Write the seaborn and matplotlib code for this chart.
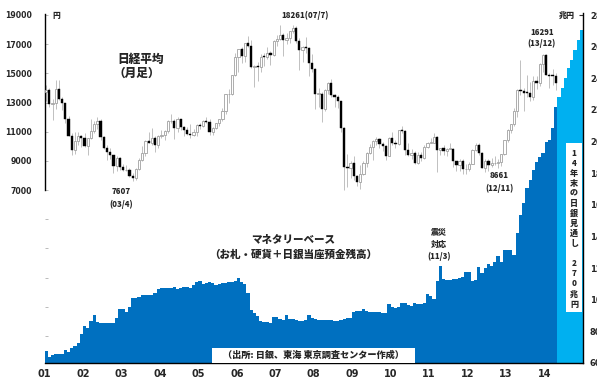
import numpy as np
import matplotlib
matplotlib.use("Agg")
import matplotlib.pyplot as plt
import matplotlib.patches as mpatches
import seaborn as sns

# ---------------- data ----------------
# Nikkei 225 monthly candles, Jan 2001 - Apr 2014
nk_open = [
    13691, 13843, 12883, 12999, 13934, 13262, 12969, 11860, 10713, 9774, 10366, 10697,
    10542, 9997, 10587, 11024, 11492, 11763, 10621, 9877, 9619, 9383, 8640, 9215,
    8578, 8339, 8363, 7972, 7831, 8425, 9083, 9563, 10344, 10219, 10560, 10100,
    10676, 10783, 11042, 11715, 11762, 11236, 11858, 11325, 11081, 10823, 10771, 11004,
    11488, 11387, 11740, 11668, 11008, 11276, 11584, 11899, 12413, 13574, 13606, 14872,
    16111, 16649, 16205, 17059, 16906, 15467, 15505, 15456, 16140, 16127, 16399, 16274,
    17225, 17383, 17604, 17288, 17400, 17875, 18138, 17248, 16569, 16785, 16737, 15680,
    15307, 13592, 13603, 12525, 13849, 14338, 13481, 13376, 13072, 11259, 8576, 8512,
    8859, 7994, 7568, 8109, 8828, 9522, 9958, 10356, 10492, 10133, 10034, 9345,
    10546, 10198, 10126, 11089, 11057, 9768, 9382, 9537, 8824, 9369, 9202, 9937,
    10228, 10237, 10624, 9755, 9849, 9693, 9816, 9833, 8955, 8700, 8988, 8434,
    8455, 8802, 9723, 10083, 9520, 8542, 9007, 8695, 8840, 8870, 8928, 9446,
    10395, 11138, 11559, 12397, 13860, 13774, 13677, 13668, 13389, 14455, 14327, 15662,
    16291, 14914, 14841, 14828,
]
nk_high = [
    14186, 14000, 13220, 14529, 14556, 13400, 13000, 12100, 10900, 11000, 11000, 10800,
    10900, 10600, 11900, 11700, 11980, 11900, 10700, 10100, 9900, 9400, 9300, 9250,
    8800, 8700, 8500, 8200, 8500, 9200, 10000, 10400, 11000, 11238, 10700, 10800,
    11100, 11100, 11800, 12195, 11900, 11988, 11900, 11400, 11300, 11500, 11200, 11500,
    11600, 11800, 12000, 11900, 11300, 11600, 11900, 12600, 13600, 13900, 14900, 16400,
    16700, 16800, 17100, 17563, 17300, 15600, 15800, 16300, 16400, 16800, 16500, 17300,
    17600, 18300, 17800, 17800, 17900, 18300, 18262, 17400, 16900, 17500, 16800, 16300,
    15400, 14000, 13700, 13900, 14400, 14600, 13600, 13500, 13100, 11300, 9500, 9000,
    9300, 8000, 8700, 9000, 9600, 10170, 10400, 10640, 10600, 10300, 10100, 10650,
    10982, 10400, 11100, 11408, 11100, 10200, 9800, 9700, 9600, 9600, 10100, 10300,
    10600, 10890, 10700, 9900, 10100, 9900, 10200, 9900, 9000, 9100, 9100, 8800,
    8900, 9800, 10255, 10200, 9600, 9100, 9100, 9200, 9300, 9100, 9500, 10400,
    11200, 11500, 12650, 13900, 15942, 14000, 14900, 14400, 14800, 14800, 15700, 16320,
    16300, 15000, 15300, 15000,
]
nk_low = [
    13093, 12695, 11819, 12550, 13200, 12500, 11600, 10700, 9382, 9500, 10100, 9924,
    9920, 9420, 10500, 10900, 11200, 10400, 9800, 9075, 9100, 8200, 8300, 8400,
    8300, 8300, 7862, 7607, 7700, 8400, 9000, 9300, 10200, 10100, 9600, 9900,
    10600, 10400, 10900, 11600, 10500, 11000, 11100, 10700, 10800, 10600, 10700, 10700,
    11200, 11300, 11600, 10770, 10800, 11200, 11400, 11700, 12200, 13000, 13500, 14800,
    15059, 15700, 15800, 16800, 15400, 14045, 14500, 15100, 15500, 16000, 15600, 16200,
    16900, 17300, 16200, 17000, 17100, 17800, 17100, 15262, 15800, 16400, 14800, 15100,
    12573, 12700, 11691, 12400, 13600, 13400, 12700, 12600, 11000, 6995, 7200, 7800,
    7700, 7300, 7054, 8000, 8600, 9500, 9050, 10100, 9900, 9700, 9076, 9300,
    10100, 9867, 10100, 10900, 9400, 9300, 9100, 8800, 8800, 9000, 9100, 9900,
    10200, 10200, 8227, 9400, 9400, 9300, 9800, 8600, 8300, 8300, 8100, 8100,
    8300, 8800, 9700, 9400, 8500, 8238, 8300, 8600, 8700, 8500, 8661, 9400,
    10300, 10900, 11400, 12000, 13500, 12415, 13400, 13100, 13200, 13900, 14100, 15100,
    14900, 13995, 14200, 13885,
]
nk_close = [
    13843, 12883, 12999, 13934, 13262, 12969, 11860, 10713, 9774, 10366, 10697, 10542,
    9997, 10587, 11024, 11492, 11763, 10621, 9877, 9619, 9383, 8640, 9215, 8578,
    8339, 8363, 7972, 7831, 8425, 9083, 9563, 10344, 10219, 10560, 10100, 10676,
    10783, 11042, 11715, 11762, 11236, 11858, 11325, 11081, 10823, 10771, 11004, 11488,
    11387, 11740, 11668, 11008, 11276, 11584, 11899, 12413, 13574, 13606, 14872, 16111,
    16649, 16205, 17059, 16906, 15467, 15505, 15456, 16140, 16127, 16399, 16274, 17225,
    17383, 17604, 17288, 17400, 17875, 18138, 17248, 16569, 16785, 16737, 15680, 15307,
    13592, 13603, 12525, 13849, 14338, 13481, 13376, 13072, 11259, 8576, 8512, 8859,
    7994, 7568, 8109, 8828, 9522, 9958, 10356, 10492, 10133, 10034, 9345, 10546,
    10198, 10126, 11089, 11057, 9768, 9382, 9537, 8824, 9369, 9202, 9937, 10228,
    10237, 10624, 9755, 9849, 9693, 9816, 9833, 8955, 8700, 8988, 8434, 8455,
    8802, 9723, 10083, 9520, 8542, 9007, 8695, 8840, 8870, 8928, 9446, 10395,
    11138, 11559, 12397, 13860, 13774, 13677, 13668, 13389, 14455, 14327, 15662, 16291,
    14914, 14841, 14828, 14304,
]

# Monetary base (trillion yen), monthly Jan 2001 - Apr 2014
monetary_base = [
    67.6, 64.0, 64.8, 65.9, 65.9, 65.9, 68.0, 67.2, 69.5, 70.7, 72.4, 78.3,
    83.4, 81.9, 86.5, 90.3, 86.1, 85.1, 85.5, 85.5, 85.5, 85.5, 88.4, 94.3,
    94.3, 92.2, 95.6, 100.9, 100.9, 101.9, 103.2, 103.2, 103.2, 103.2, 104.0, 106.8,
    107.6, 107.6, 107.6, 107.6, 108.2, 106.6, 107.6, 107.8, 107.8, 107.2, 109.3, 111.4,
    111.8, 109.7, 110.4, 111.0, 110.4, 109.3, 109.7, 110.4, 110.4, 111.0, 111.0, 111.8,
    113.5, 111.4, 109.7, 104.0, 93.5, 91.4, 89.7, 86.8, 86.1, 86.1, 85.5, 89.3,
    89.3, 87.8, 87.2, 90.1, 87.8, 87.6, 87.2, 86.8, 86.8, 87.2, 90.1, 88.4,
    87.6, 87.2, 87.2, 87.2, 87.2, 87.2, 86.8, 86.8, 87.2, 87.8, 88.7, 88.7,
    92.1, 92.9, 92.9, 94.2, 93.1, 92.5, 92.1, 92.1, 92.1, 91.4, 91.4, 97.1,
    95.6, 95.0, 95.6, 97.7, 97.7, 96.7, 96.0, 97.7, 97.3, 97.3, 97.7, 103.4,
    102.5, 100.2, 111.8, 121.3, 112.9, 112.4, 112.4, 112.9, 113.1, 113.5, 114.6, 117.7,
    117.5, 112.0, 112.5, 120.5, 117.1, 119.8, 122.6, 121.3, 124.0, 127.6, 124.0, 131.4,
    131.4, 131.4, 128.3, 142.0, 153.5, 160.9, 170.4, 175.7, 182.0, 187.2, 190.4, 192.9,
    199.9, 200.9, 208.3, 222.0,
]
# BOJ outlook path, May - Dec 2014
mb_projection = [228.3, 233.6, 239.9, 246.3, 251.5, 257.8, 264.1, 270.5]

year_labels = ["01", "02", "03", "04", "05", "06", "07", "08", "09", "10", "11", "12", "13", "14"]
left_ticks = [7000, 9000, 11000, 13000, 15000, 17000, 19000]
right_ticks = [60, 80, 100, 120, 140, 160, 180, 200, 220, 240, 260, 280]

# ---------------- style ----------------
sns.set_theme(style="white")
JP = ["Noto Sans CJK JP", "DejaVu Sans"]
plt.rcParams["font.family"] = JP
plt.rcParams["font.weight"] = "bold"

DARK = "#0070C0"
LIGHT = "#00B0F0"

W, H = 597, 380
fig = plt.figure(figsize=(W / 100, H / 100), dpi=100)
fig.patch.set_facecolor("white")

def fx(x):
    return x / W

def fy(y):
    return 1 - y / H

rect = [fx(44.5), fy(363), fx(583) - fx(44.5), fy(13) - fy(363)]
ax = fig.add_axes(rect)
ax_c = fig.add_axes(rect, sharex=ax)
ax_c.patch.set_alpha(0)

# ---------------- monetary base (right axis) ----------------
n_act = len(monetary_base)
n_proj = len(mb_projection)
edges_act = 2001 + np.arange(n_act + 1) / 12.0
vals_act = np.array(monetary_base + [monetary_base[-1]])
ax.fill_between(edges_act, 0, vals_act, step="post", color=DARK, lw=0, zorder=2)
edges_proj = 2001 + np.arange(n_act, n_act + n_proj + 1) / 12.0
vals_proj = np.array(mb_projection + [mb_projection[-1]])
ax.fill_between(edges_proj, 0, vals_proj, step="post", color=LIGHT, lw=0, zorder=2)

ax.set_xlim(2001, 2015)
ax.set_ylim(60, 60 + 350 * 220 / 348)
ax.yaxis.tick_right()
ax.set_yticks(right_ticks)
ax.set_yticklabels([str(v) for v in right_ticks])
ax.set_xticks(np.arange(2001, 2015))
ax.set_xticklabels(year_labels)
ax.tick_params(axis="y", direction="in", length=3, width=0.8, color="#333333",
               pad=5, labelsize=6.0, right=True, left=False)
ax.tick_params(axis="x", direction="in", length=2, width=0.6, color="#888888",
               pad=4, labelsize=7.0, bottom=True)
for lab in ax.get_xticklabels() + ax.get_yticklabels():
    lab.set_fontweight("heavy")
    lab.set_family(["DejaVu Sans"])
for s in ["left", "top"]:
    ax.spines[s].set_visible(False)
for s in ["right", "bottom"]:
    ax.spines[s].set_color("black")
    ax.spines[s].set_linewidth(1.0)

# ---------------- Nikkei candles (left axis) ----------------
o = np.array(nk_open, float)
h = np.array(nk_high, float)
l = np.array(nk_low, float)
c = np.array(nk_close, float)
xc = 2001 + (np.arange(len(c)) + 0.5) / 12.0
up = c >= o
ax_c.vlines(xc, l, h, color="#b5b5b5", lw=0.6, zorder=2)
bw = 0.058
ax_c.bar(xc[up], np.maximum(c[up] - o[up], 40), bottom=o[up], width=bw,
         color="white", edgecolor="#a0a0a0", linewidth=0.6, zorder=3)
ax_c.bar(xc[~up], np.maximum(o[~up] - c[~up], 60), bottom=c[~up], width=bw,
         color="black", edgecolor="black", linewidth=0.3, zorder=3)

ax_c.set_ylim(7000 - 173 * 2000 / 29.17, 19000 + 2 * 2000 / 29.17)
all_left = list(range(-3000, 19001, 2000))
ax_c.set_yticks(all_left)
ax_c.set_yticklabels([str(v) if v in left_ticks else "" for v in all_left])
ax_c.tick_params(axis="y", direction="in", length=2, width=0.6, color="#b0b0b0",
                 pad=9, labelsize=5.6, left=True, right=False)
for lab in ax_c.get_yticklabels():
    lab.set_fontweight("heavy")
    lab.set_family(["DejaVu Sans"])
ax_c.tick_params(axis="x", bottom=False, labelbottom=False)
for s in ["right", "top", "bottom"]:
    ax_c.spines[s].set_visible(False)
ax_c.spines["left"].set_bounds(7000, 19100)
ax_c.spines["left"].set_color("black")
ax_c.spines["left"].set_linewidth(1.0)

# ---------------- boxes ----------------
fig.add_artist(mpatches.Rectangle((fx(212), fy(362.5)), fx(415) - fx(212), fy(348) - fy(362.5),
                                  transform=fig.transFigure, facecolor="white",
                                  edgecolor="none", zorder=2.5))
fig.add_artist(mpatches.Rectangle((fx(566), fy(312)), fx(582) - fx(566), fy(143) - fy(312),
                                  transform=fig.transFigure, facecolor="white",
                                  edgecolor="none", zorder=2.5))

# ---------------- texts ----------------
def t(x, y, s, size, **kw):
    fig.text(fx(x), fy(y), s, fontsize=size, fontweight="black", family=JP,
             ha=kw.pop("ha", "center"), va=kw.pop("va", "center"), zorder=4, **kw)

t(56.5, 15.5, "円", 5.6)
t(567, 15, "兆円", 5.8)
t(141, 59, "日経平均", 8.4)
t(137, 72.5, "（月足）", 8.4)
t(305, 15, "18261(07/7)", 5.6)
t(542, 32.5, "16291", 5.6)
t(541, 43.5, "(13/12)", 5.6)
t(499, 176, "8661", 5.6)
t(499, 188, "(12/11)", 5.6)
t(121, 192, "7607", 5.6)
t(121, 204.5, "(03/4)", 5.6)
t(439, 232, "震災", 5.8)
t(439, 244, "対応", 5.8)
t(439, 256, "(11/3)", 5.6)
t(293, 239, "マネタリーベース", 7.6)
t(293, 254, "（お札・硬貨＋日銀当座預金残高）", 7.6)
t(313, 355.5, "（出所: 日銀、東海 東京調査センター作成）", 6.6)

vert = ["1", "4", "年", "末", "の", "日", "銀", "見", "通", "し", "",
        "2", "7", "0", "兆", "円"]
for i, ch in enumerate(vert):
    if ch:
        t(574, 153 + i * 10.07, ch, 5.8)

fig.savefig("out.png", dpi=100)
